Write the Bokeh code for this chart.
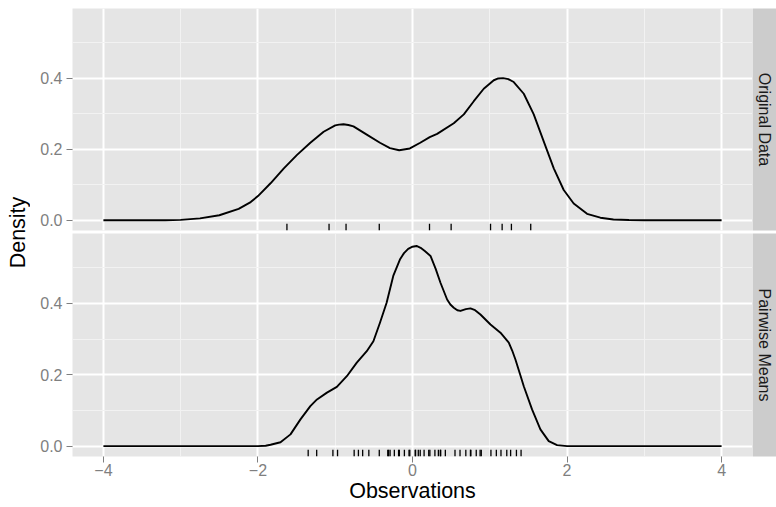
import math
from bokeh.plotting import figure
from bokeh.layouts import row, column
from bokeh.models import (Range1d, FixedTicker, Grid, NumeralTickFormatter,
                          CustomJSTickFormatter, ColumnDataSource)
from bokeh.core.properties import value
from bokeh.embed import file_html
from bokeh.resources import INLINE

# ---------------- data ----------------
panel_labels = ["Original Data", "Pairwise Means"]

orig_x = [-4.0, -3.2, -3.0, -2.75, -2.5, -2.25, -2.094, -2.0, -1.837, -1.665, -1.494,
          -1.322, -1.15, -1.0, -0.95, -0.893, -0.83, -0.764, -0.592, -0.421, -0.292,
          -0.172, -0.034, 0.1, 0.223, 0.319, 0.534, 0.664, 0.793, 0.922, 1.052, 1.11,
          1.172, 1.24, 1.31, 1.44, 1.569, 1.698, 1.828, 1.957, 2.086, 2.259, 2.431,
          2.6, 2.8, 3.0, 4.0]
orig_y = [0.0, 0.0, 0.001, 0.005, 0.014, 0.032, 0.051, 0.068, 0.104, 0.146, 0.184,
          0.218, 0.249, 0.267, 0.269, 0.270, 0.268, 0.264, 0.241, 0.218, 0.203,
          0.197, 0.202, 0.218, 0.234, 0.243, 0.273, 0.298, 0.335, 0.370, 0.394, 0.399,
          0.400, 0.397, 0.389, 0.356, 0.298, 0.222, 0.146, 0.085, 0.047, 0.018, 0.007,
          0.002, 0.0005, 0.0, 0.0]

pair_x = [-4.0, -2.0, -1.9, -1.837, -1.708, -1.579, -1.45, -1.322, -1.236, -1.107,
          -0.979, -0.85, -0.721, -0.592, -0.506, -0.421, -0.335, -0.249, -0.163, -0.11,
          -0.056, 0.0, 0.052, 0.105, 0.159, 0.233, 0.30, 0.362, 0.448, 0.49, 0.534,
          0.58, 0.621, 0.69, 0.75, 0.81, 0.879, 1.009, 1.138, 1.246, 1.29, 1.332, 1.39,
          1.44, 1.547, 1.655, 1.763, 1.871, 2.0, 4.0]
pair_y = [0.0, 0.0, 0.001, 0.004, 0.011, 0.033, 0.075, 0.112, 0.131, 0.150,
          0.166, 0.196, 0.234, 0.266, 0.294, 0.346, 0.402, 0.477, 0.523, 0.541,
          0.553, 0.559, 0.561, 0.556, 0.547, 0.533, 0.497, 0.458, 0.411, 0.397, 0.388,
          0.381, 0.379, 0.384, 0.386, 0.381, 0.369, 0.341, 0.318, 0.290, 0.268, 0.243, 0.203,
          0.168, 0.103, 0.047, 0.014, 0.003, 0.0, 0.0]

orig_rug = [-1.625, -1.08, -0.86, -0.43, 0.22, 0.50, 1.01, 1.16, 1.28, 1.53]
pair_rug = [-1.35, -1.24, -1.03, -0.97, -0.755, -0.70, -0.645, -0.565, -0.43, -0.32,
            -0.31, -0.29, -0.235, -0.18, -0.17, -0.105, -0.045, -0.035, 0.035, 0.04,
            0.075, 0.10, 0.15, 0.21, 0.225, 0.29, 0.335, 0.36, 0.365, 0.425, 0.55,
            0.615, 0.69, 0.75, 0.755, 0.825, 0.875, 0.89, 1.015, 1.085, 1.145, 1.22,
            1.27, 1.345, 1.405]

x_ticks = [-4, -2, 0, 2, 4]
x_minor = [-3, -1, 1, 3]
y_ticks = [0.0, 0.2, 0.4]
y_minor = [0.1, 0.3, 0.5]

x_title = "Observations"
y_title = "Density"

# ---------------- styling ----------------
FONT = "Liberation Sans"
PANEL_BG = "#E5E5E5"
STRIP_BG = "#CCCCCC"
AXIS_GREY = "#7F7F7F"
TICK_FS = "16px"
TITLE_FS = "21.5px"
XMIN, XMAX = -4.4, 4.4
YMIN, YMAX = -0.029, 0.596


def strip_grids(p):
    p.center = [r for r in p.center if not isinstance(r, Grid)]


def make_panel(cx, cy, rug, height, top, bottom, show_x):
    p = figure(width=722, height=height, title=None,
               x_range=Range1d(XMIN, XMAX), y_range=Range1d(YMIN, YMAX),
               x_axis_location="below" if show_x else None,
               min_border_left=42, min_border_right=0,
               min_border_top=top, min_border_bottom=bottom,
               output_backend="svg", toolbar_location=None,
               background_fill_color=PANEL_BG, border_fill_color="white",
               outline_line_color=None)
    strip_grids(p)
    for dim, tk, mn in ((0, x_ticks, x_minor), (1, y_ticks, y_minor)):
        g = Grid(dimension=dim, ticker=FixedTicker(ticks=tk, minor_ticks=mn),
                 grid_line_color="white", grid_line_width=2,
                 minor_grid_line_color="#F2F2F2", minor_grid_line_width=1)
        p.add_layout(g)

    axes = list(p.yaxis) + (list(p.xaxis) if show_x else [])
    for ax in axes:
        ax.axis_line_color = None
        ax.major_tick_in = 0
        ax.major_tick_out = 6
        ax.major_tick_line_color = AXIS_GREY
        ax.major_tick_line_width = 1
        ax.minor_tick_line_color = None
        ax.major_label_text_color = AXIS_GREY
        ax.major_label_text_font = FONT
        ax.major_label_text_font_size = TICK_FS
    p.yaxis.ticker = FixedTicker(ticks=y_ticks)
    p.yaxis.formatter = NumeralTickFormatter(format="0.0")
    p.yaxis.major_label_standoff = 4
    if show_x:
        p.xaxis.ticker = FixedTicker(ticks=x_ticks)
        p.xaxis.formatter = CustomJSTickFormatter(
            code="return tick < 0 ? '\\u2212' + String(-tick) : String(tick);")
        p.xaxis.major_label_standoff = 1
        p.xaxis.axis_label = x_title
        p.xaxis.axis_label_text_font = FONT
        p.xaxis.axis_label_text_font_size = TITLE_FS
        p.xaxis.axis_label_text_font_style = "normal"
        p.xaxis.axis_label_text_color = "black"
        p.xaxis.axis_label_standoff = 0

    p.line(cx, cy, line_color="black", line_width=1.9, line_join="round")
    rug_len = 0.03 * (YMAX - YMIN)
    src = ColumnDataSource(dict(x=rug, y0=[YMIN] * len(rug), y1=[YMIN + rug_len] * len(rug)))
    p.segment(x0="x", y0="y0", x1="x", y1="y1", source=src,
              line_color="black", line_width=1.3)
    return p


def make_strip(label, height, top, bottom):
    s = figure(width=24, height=height, title=None,
               x_range=Range1d(0, 1), y_range=Range1d(0, 1),
               x_axis_location=None, y_axis_location=None,
               min_border_left=0, min_border_right=0,
               min_border_top=top, min_border_bottom=bottom,
               output_backend="svg", toolbar_location=None,
               background_fill_color=STRIP_BG, border_fill_color="white",
               outline_line_color=None)
    strip_grids(s)
    s.text(x=[0.5], y=[0.5], text=[label], angle=-math.pi / 2,
           text_align="center", text_baseline="middle",
           text_font=value(FONT), text_font_size=TICK_FS, text_color="#1A1A1A")
    return s


top = make_panel(orig_x, orig_y, orig_rug, 233, 8, 3, False)
bot = make_panel(pair_x, pair_y, pair_rug, 274, 0, 51, True)
s1 = make_strip(panel_labels[0], 233, 8, 3)
s2 = make_strip(panel_labels[1], 274, 0, 51)

ylab = figure(width=30, height=507, title=None,
              x_range=Range1d(0, 30), y_range=Range1d(0, 507),
              x_axis_location=None, y_axis_location=None,
              min_border=0, output_backend="svg", toolbar_location=None,
              background_fill_color="white", border_fill_color="white",
              outline_line_color=None)
strip_grids(ylab)
ylab.text(x=[17], y=[507 - 232], text=[y_title], angle=math.pi / 2,
          text_align="center", text_baseline="middle",
          text_font=value(FONT), text_font_size=TITLE_FS, text_color="black")

layout = row(ylab, column(top, bot), column(s1, s2))

with open("out.html", "w", encoding="utf-8") as f:
    f.write(file_html(layout, INLINE))
